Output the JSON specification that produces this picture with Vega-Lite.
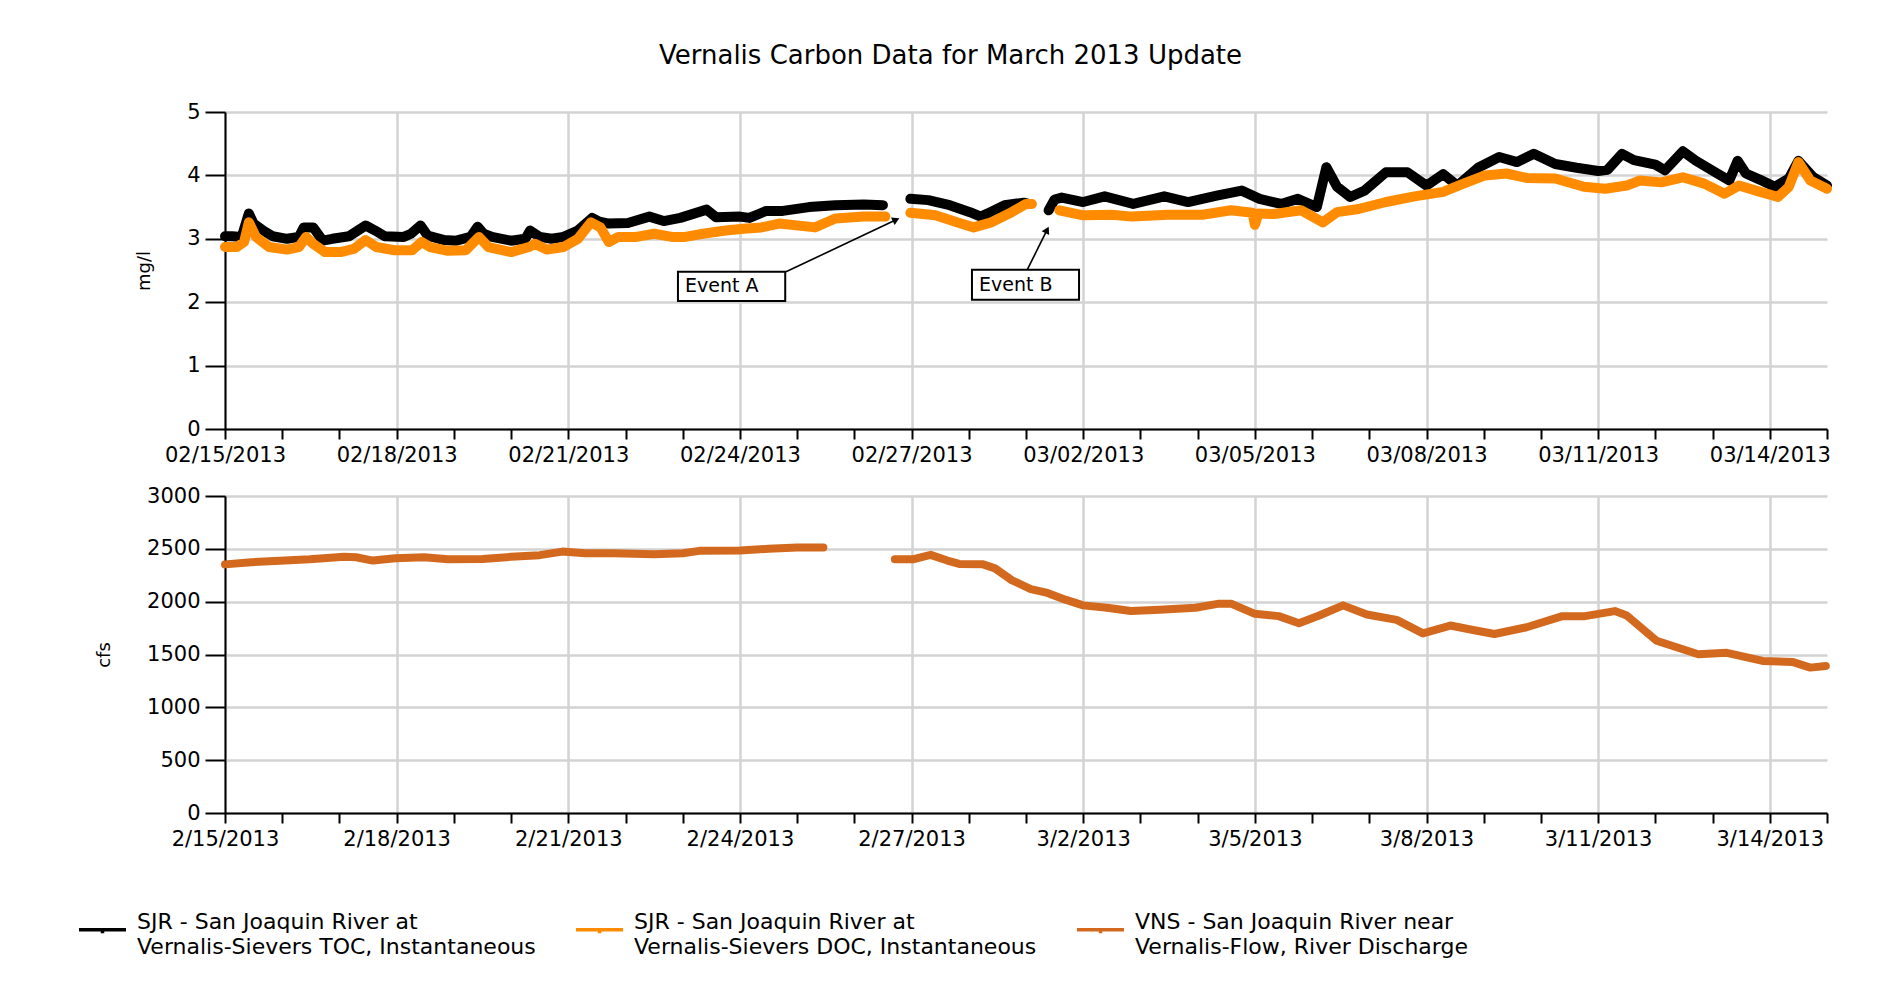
{
  "$schema": "https://vega.github.io/schema/vega-lite/v6.json",
  "padding": {"left": 77, "top": 43, "right": 10, "bottom": 10},
  "background": "white",
  "title": {"text": "Vernalis Carbon Data for March 2013 Update", "font": "DejaVu Sans", "fontSize": 26, "fontWeight": "normal", "color": "black", "anchor": "middle", "frame": "bounds", "offset": 32, "dx": -4},
  "datasets": {
    "toc": [
      {"t":"2013-02-15T00:00","v":3.04,"s":"TOC","g":1},{"t":"2013-02-15T03:00","v":3.04,"s":"TOC","g":1},{"t":"2013-02-15T07:00","v":3.03,"s":"TOC","g":1},{"t":"2013-02-15T10:00","v":3.40,"s":"TOC","g":1},{"t":"2013-02-15T12:00","v":3.24,"s":"TOC","g":1},{"t":"2013-02-15T16:00","v":3.13,"s":"TOC","g":1},{"t":"2013-02-15T20:00","v":3.04,"s":"TOC","g":1},{"t":"2013-02-16T02:00","v":3.00,"s":"TOC","g":1},{"t":"2013-02-16T07:00","v":3.03,"s":"TOC","g":1},{"t":"2013-02-16T09:00","v":3.18,"s":"TOC","g":1},{"t":"2013-02-16T13:00","v":3.18,"s":"TOC","g":1},{"t":"2013-02-16T17:00","v":2.97,"s":"TOC","g":1},{"t":"2013-02-16T21:00","v":3.00,"s":"TOC","g":1},{"t":"2013-02-17T04:00","v":3.04,"s":"TOC","g":1},{"t":"2013-02-17T11:00","v":3.21,"s":"TOC","g":1},{"t":"2013-02-17T15:00","v":3.13,"s":"TOC","g":1},{"t":"2013-02-17T19:00","v":3.04,"s":"TOC","g":1},{"t":"2013-02-18T03:00","v":3.03,"s":"TOC","g":1},{"t":"2013-02-18T06:00","v":3.08,"s":"TOC","g":1},{"t":"2013-02-18T10:00","v":3.21,"s":"TOC","g":1},{"t":"2013-02-18T13:00","v":3.05,"s":"TOC","g":1},{"t":"2013-02-18T20:00","v":2.98,"s":"TOC","g":1},{"t":"2013-02-19T01:00","v":2.97,"s":"TOC","g":1},{"t":"2013-02-19T07:00","v":3.03,"s":"TOC","g":1},{"t":"2013-02-19T10:00","v":3.19,"s":"TOC","g":1},{"t":"2013-02-19T12:30","v":3.08,"s":"TOC","g":1},{"t":"2013-02-19T16:00","v":3.03,"s":"TOC","g":1},{"t":"2013-02-20T00:00","v":2.97,"s":"TOC","g":1},{"t":"2013-02-20T06:00","v":3.00,"s":"TOC","g":1},{"t":"2013-02-20T08:00","v":3.13,"s":"TOC","g":1},{"t":"2013-02-20T12:00","v":3.03,"s":"TOC","g":1},{"t":"2013-02-20T17:00","v":3.00,"s":"TOC","g":1},{"t":"2013-02-20T22:00","v":3.03,"s":"TOC","g":1},{"t":"2013-02-21T04:00","v":3.13,"s":"TOC","g":1},{"t":"2013-02-21T10:00","v":3.33,"s":"TOC","g":1},{"t":"2013-02-21T13:00","v":3.27,"s":"TOC","g":1},{"t":"2013-02-21T17:00","v":3.24,"s":"TOC","g":1},{"t":"2013-02-22T01:00","v":3.25,"s":"TOC","g":1},{"t":"2013-02-22T10:00","v":3.35,"s":"TOC","g":1},{"t":"2013-02-22T16:00","v":3.28,"s":"TOC","g":1},{"t":"2013-02-22T23:00","v":3.33,"s":"TOC","g":1},{"t":"2013-02-23T10:00","v":3.46,"s":"TOC","g":1},{"t":"2013-02-23T14:00","v":3.34,"s":"TOC","g":1},{"t":"2013-02-24T00:00","v":3.35,"s":"TOC","g":1},{"t":"2013-02-24T04:00","v":3.33,"s":"TOC","g":1},{"t":"2013-02-24T11:00","v":3.44,"s":"TOC","g":1},{"t":"2013-02-24T18:00","v":3.44,"s":"TOC","g":1},{"t":"2013-02-25T05:00","v":3.50,"s":"TOC","g":1},{"t":"2013-02-25T16:00","v":3.53,"s":"TOC","g":1},{"t":"2013-02-26T04:00","v":3.54,"s":"TOC","g":1},{"t":"2013-02-26T12:00","v":3.53,"s":"TOC","g":1},
      {"t":"2013-02-26T23:30","v":3.63,"s":"TOC","g":2},{"t":"2013-02-27T07:00","v":3.61,"s":"TOC","g":2},{"t":"2013-02-27T16:00","v":3.53,"s":"TOC","g":2},{"t":"2013-02-28T00:30","v":3.42,"s":"TOC","g":2},{"t":"2013-02-28T05:00","v":3.35,"s":"TOC","g":2},{"t":"2013-02-28T09:00","v":3.42,"s":"TOC","g":2},{"t":"2013-02-28T15:00","v":3.53,"s":"TOC","g":2},{"t":"2013-02-28T23:00","v":3.57,"s":"TOC","g":2},{"t":"2013-03-01T01:00","v":3.55,"s":"TOC","g":2},
      {"t":"2013-03-01T09:30","v":3.45,"s":"TOC","g":3},{"t":"2013-03-01T12:00","v":3.62,"s":"TOC","g":3},{"t":"2013-03-01T15:00","v":3.65,"s":"TOC","g":3},{"t":"2013-03-02T00:00","v":3.58,"s":"TOC","g":3},{"t":"2013-03-02T09:00","v":3.67,"s":"TOC","g":3},{"t":"2013-03-02T21:00","v":3.55,"s":"TOC","g":3},{"t":"2013-03-03T10:00","v":3.67,"s":"TOC","g":3},{"t":"2013-03-03T20:00","v":3.58,"s":"TOC","g":3},{"t":"2013-03-04T08:00","v":3.68,"s":"TOC","g":3},{"t":"2013-03-04T18:30","v":3.76,"s":"TOC","g":3},{"t":"2013-03-05T02:00","v":3.63,"s":"TOC","g":3},{"t":"2013-03-05T11:00","v":3.55,"s":"TOC","g":3},{"t":"2013-03-05T18:00","v":3.63,"s":"TOC","g":3},{"t":"2013-03-06T02:00","v":3.50,"s":"TOC","g":3},{"t":"2013-03-06T06:00","v":4.13,"s":"TOC","g":3},{"t":"2013-03-06T10:30","v":3.82,"s":"TOC","g":3},{"t":"2013-03-06T16:00","v":3.66,"s":"TOC","g":3},{"t":"2013-03-06T22:00","v":3.76,"s":"TOC","g":3},{"t":"2013-03-07T07:00","v":4.05,"s":"TOC","g":3},{"t":"2013-03-07T16:00","v":4.05,"s":"TOC","g":3},{"t":"2013-03-08T00:00","v":3.84,"s":"TOC","g":3},{"t":"2013-03-08T07:00","v":4.02,"s":"TOC","g":3},{"t":"2013-03-08T13:00","v":3.84,"s":"TOC","g":3},{"t":"2013-03-08T22:00","v":4.13,"s":"TOC","g":3},{"t":"2013-03-09T06:30","v":4.29,"s":"TOC","g":3},{"t":"2013-03-09T14:00","v":4.21,"s":"TOC","g":3},{"t":"2013-03-09T21:00","v":4.34,"s":"TOC","g":3},{"t":"2013-03-10T06:00","v":4.18,"s":"TOC","g":3},{"t":"2013-03-10T15:00","v":4.12,"s":"TOC","g":3},{"t":"2013-03-11T00:00","v":4.07,"s":"TOC","g":3},{"t":"2013-03-11T04:00","v":4.09,"s":"TOC","g":3},{"t":"2013-03-11T10:00","v":4.34,"s":"TOC","g":3},{"t":"2013-03-11T15:00","v":4.24,"s":"TOC","g":3},{"t":"2013-03-12T00:00","v":4.17,"s":"TOC","g":3},{"t":"2013-03-12T04:00","v":4.08,"s":"TOC","g":3},{"t":"2013-03-12T11:30","v":4.38,"s":"TOC","g":3},{"t":"2013-03-12T17:00","v":4.23,"s":"TOC","g":3},{"t":"2013-03-13T02:00","v":4.03,"s":"TOC","g":3},{"t":"2013-03-13T07:00","v":3.92,"s":"TOC","g":3},{"t":"2013-03-13T10:30","v":4.23,"s":"TOC","g":3},{"t":"2013-03-13T14:00","v":4.03,"s":"TOC","g":3},{"t":"2013-03-13T20:00","v":3.93,"s":"TOC","g":3},{"t":"2013-03-14T02:00","v":3.82,"s":"TOC","g":3},{"t":"2013-03-14T08:00","v":3.95,"s":"TOC","g":3},{"t":"2013-03-14T12:00","v":4.23,"s":"TOC","g":3},{"t":"2013-03-14T18:00","v":3.98,"s":"TOC","g":3},{"t":"2013-03-15T00:00","v":3.84,"s":"TOC","g":3}
    ],
    "doc": [
      {"t":"2013-02-15T00:00","v":2.87,"s":"DOC","g":1},{"t":"2013-02-15T05:00","v":2.87,"s":"DOC","g":1},{"t":"2013-02-15T08:00","v":2.95,"s":"DOC","g":1},{"t":"2013-02-15T10:00","v":3.26,"s":"DOC","g":1},{"t":"2013-02-15T13:00","v":3.03,"s":"DOC","g":1},{"t":"2013-02-15T18:30","v":2.87,"s":"DOC","g":1},{"t":"2013-02-16T02:00","v":2.83,"s":"DOC","g":1},{"t":"2013-02-16T07:00","v":2.87,"s":"DOC","g":1},{"t":"2013-02-16T10:00","v":3.03,"s":"DOC","g":1},{"t":"2013-02-16T13:00","v":2.92,"s":"DOC","g":1},{"t":"2013-02-16T18:00","v":2.79,"s":"DOC","g":1},{"t":"2013-02-17T00:30","v":2.79,"s":"DOC","g":1},{"t":"2013-02-17T06:00","v":2.84,"s":"DOC","g":1},{"t":"2013-02-17T11:00","v":2.98,"s":"DOC","g":1},{"t":"2013-02-17T15:30","v":2.87,"s":"DOC","g":1},{"t":"2013-02-17T23:00","v":2.82,"s":"DOC","g":1},{"t":"2013-02-18T06:30","v":2.82,"s":"DOC","g":1},{"t":"2013-02-18T10:30","v":2.95,"s":"DOC","g":1},{"t":"2013-02-18T14:00","v":2.87,"s":"DOC","g":1},{"t":"2013-02-18T21:30","v":2.81,"s":"DOC","g":1},{"t":"2013-02-19T05:00","v":2.82,"s":"DOC","g":1},{"t":"2013-02-19T10:30","v":3.03,"s":"DOC","g":1},{"t":"2013-02-19T14:30","v":2.87,"s":"DOC","g":1},{"t":"2013-02-20T00:00","v":2.79,"s":"DOC","g":1},{"t":"2013-02-20T07:30","v":2.87,"s":"DOC","g":1},{"t":"2013-02-20T10:00","v":2.92,"s":"DOC","g":1},{"t":"2013-02-20T15:00","v":2.83,"s":"DOC","g":1},{"t":"2013-02-20T22:00","v":2.87,"s":"DOC","g":1},{"t":"2013-02-21T04:00","v":3.00,"s":"DOC","g":1},{"t":"2013-02-21T09:30","v":3.26,"s":"DOC","g":1},{"t":"2013-02-21T13:30","v":3.18,"s":"DOC","g":1},{"t":"2013-02-21T17:00","v":2.95,"s":"DOC","g":1},{"t":"2013-02-21T21:00","v":3.03,"s":"DOC","g":1},{"t":"2013-02-22T04:30","v":3.03,"s":"DOC","g":1},{"t":"2013-02-22T12:00","v":3.08,"s":"DOC","g":1},{"t":"2013-02-22T19:30","v":3.03,"s":"DOC","g":1},{"t":"2013-02-23T01:00","v":3.03,"s":"DOC","g":1},{"t":"2013-02-23T08:30","v":3.08,"s":"DOC","g":1},{"t":"2013-02-23T18:00","v":3.13,"s":"DOC","g":1},{"t":"2013-02-24T01:30","v":3.16,"s":"DOC","g":1},{"t":"2013-02-24T09:00","v":3.18,"s":"DOC","g":1},{"t":"2013-02-24T16:30","v":3.24,"s":"DOC","g":1},{"t":"2013-02-25T07:30","v":3.18,"s":"DOC","g":1},{"t":"2013-02-25T16:00","v":3.32,"s":"DOC","g":1},{"t":"2013-02-26T04:00","v":3.35,"s":"DOC","g":1},{"t":"2013-02-26T13:00","v":3.35,"s":"DOC","g":1},
      {"t":"2013-02-26T23:30","v":3.41,"s":"DOC","g":2},{"t":"2013-02-27T10:00","v":3.37,"s":"DOC","g":2},{"t":"2013-02-27T19:00","v":3.26,"s":"DOC","g":2},{"t":"2013-02-28T02:00","v":3.18,"s":"DOC","g":2},{"t":"2013-02-28T09:30","v":3.26,"s":"DOC","g":2},{"t":"2013-02-28T18:00","v":3.42,"s":"DOC","g":2},{"t":"2013-03-01T00:00","v":3.55,"s":"DOC","g":2},{"t":"2013-03-01T02:30","v":3.55,"s":"DOC","g":2},
      {"t":"2013-03-01T14:00","v":3.45,"s":"DOC","g":3},{"t":"2013-03-02T00:00","v":3.37,"s":"DOC","g":3},{"t":"2013-03-02T12:00","v":3.38,"s":"DOC","g":3},{"t":"2013-03-02T20:30","v":3.35,"s":"DOC","g":3},{"t":"2013-03-03T11:30","v":3.38,"s":"DOC","g":3},{"t":"2013-03-04T02:00","v":3.38,"s":"DOC","g":3},{"t":"2013-03-04T14:00","v":3.45,"s":"DOC","g":3},{"t":"2013-03-04T23:00","v":3.41,"s":"DOC","g":3},{"t":"2013-03-05T00:00","v":3.22,"s":"DOC","g":3},{"t":"2013-03-05T01:30","v":3.40,"s":"DOC","g":3},{"t":"2013-03-05T08:00","v":3.39,"s":"DOC","g":3},{"t":"2013-03-05T19:30","v":3.45,"s":"DOC","g":3},{"t":"2013-03-06T04:30","v":3.26,"s":"DOC","g":3},{"t":"2013-03-06T10:30","v":3.42,"s":"DOC","g":3},{"t":"2013-03-06T19:30","v":3.47,"s":"DOC","g":3},{"t":"2013-03-07T07:00","v":3.58,"s":"DOC","g":3},{"t":"2013-03-07T19:00","v":3.67,"s":"DOC","g":3},{"t":"2013-03-08T07:00","v":3.74,"s":"DOC","g":3},{"t":"2013-03-08T15:30","v":3.87,"s":"DOC","g":3},{"t":"2013-03-09T00:30","v":4.00,"s":"DOC","g":3},{"t":"2013-03-09T09:30","v":4.03,"s":"DOC","g":3},{"t":"2013-03-09T18:00","v":3.96,"s":"DOC","g":3},{"t":"2013-03-10T06:00","v":3.95,"s":"DOC","g":3},{"t":"2013-03-10T18:00","v":3.82,"s":"DOC","g":3},{"t":"2013-03-11T03:00","v":3.79,"s":"DOC","g":3},{"t":"2013-03-11T12:00","v":3.84,"s":"DOC","g":3},{"t":"2013-03-11T17:30","v":3.92,"s":"DOC","g":3},{"t":"2013-03-12T02:30","v":3.89,"s":"DOC","g":3},{"t":"2013-03-12T11:30","v":3.97,"s":"DOC","g":3},{"t":"2013-03-12T20:30","v":3.87,"s":"DOC","g":3},{"t":"2013-03-13T05:00","v":3.71,"s":"DOC","g":3},{"t":"2013-03-13T11:00","v":3.84,"s":"DOC","g":3},{"t":"2013-03-13T20:00","v":3.74,"s":"DOC","g":3},{"t":"2013-03-14T03:30","v":3.66,"s":"DOC","g":3},{"t":"2013-03-14T08:00","v":3.82,"s":"DOC","g":3},{"t":"2013-03-14T12:00","v":4.21,"s":"DOC","g":3},{"t":"2013-03-14T17:00","v":3.92,"s":"DOC","g":3},{"t":"2013-03-15T00:00","v":3.79,"s":"DOC","g":3}
    ],
    "flow": [
      {"t":"2013-02-15T00:00","v":2353,"s":"Flow","g":1},{"t":"2013-02-15T11:00","v":2373,"s":"Flow","g":1},{"t":"2013-02-15T23:00","v":2388,"s":"Flow","g":1},{"t":"2013-02-16T11:30","v":2401,"s":"Flow","g":1},{"t":"2013-02-17T02:00","v":2425,"s":"Flow","g":1},{"t":"2013-02-17T07:00","v":2420,"s":"Flow","g":1},{"t":"2013-02-17T14:00","v":2389,"s":"Flow","g":1},{"t":"2013-02-17T23:30","v":2411,"s":"Flow","g":1},{"t":"2013-02-18T11:30","v":2420,"s":"Flow","g":1},{"t":"2013-02-18T21:30","v":2401,"s":"Flow","g":1},{"t":"2013-02-19T12:00","v":2404,"s":"Flow","g":1},{"t":"2013-02-20T00:00","v":2424,"s":"Flow","g":1},{"t":"2013-02-20T12:00","v":2440,"s":"Flow","g":1},{"t":"2013-02-20T21:30","v":2474,"s":"Flow","g":1},{"t":"2013-02-21T07:00","v":2459,"s":"Flow","g":1},{"t":"2013-02-21T19:00","v":2459,"s":"Flow","g":1},{"t":"2013-02-22T12:00","v":2449,"s":"Flow","g":1},{"t":"2013-02-23T00:00","v":2459,"s":"Flow","g":1},{"t":"2013-02-23T07:00","v":2481,"s":"Flow","g":1},{"t":"2013-02-24T00:00","v":2484,"s":"Flow","g":1},{"t":"2013-02-24T12:00","v":2500,"s":"Flow","g":1},{"t":"2013-02-25T00:00","v":2513,"s":"Flow","g":1},{"t":"2013-02-25T11:00","v":2513,"s":"Flow","g":1},
      {"t":"2013-02-26T17:00","v":2401,"s":"Flow","g":2},{"t":"2013-02-27T00:30","v":2401,"s":"Flow","g":2},{"t":"2013-02-27T08:00","v":2443,"s":"Flow","g":2},{"t":"2013-02-27T15:00","v":2389,"s":"Flow","g":2},{"t":"2013-02-27T20:00","v":2357,"s":"Flow","g":2},{"t":"2013-02-28T06:00","v":2353,"s":"Flow","g":2},{"t":"2013-02-28T11:00","v":2315,"s":"Flow","g":2},{"t":"2013-02-28T18:00","v":2204,"s":"Flow","g":2},{"t":"2013-03-01T02:00","v":2118,"s":"Flow","g":2},{"t":"2013-03-01T09:00","v":2083,"s":"Flow","g":2},{"t":"2013-03-01T16:30","v":2019,"s":"Flow","g":2},{"t":"2013-03-02T00:00","v":1965,"s":"Flow","g":2},{"t":"2013-03-02T10:00","v":1943,"s":"Flow","g":2},{"t":"2013-03-02T20:00","v":1911,"s":"Flow","g":2},{"t":"2013-03-03T08:00","v":1924,"s":"Flow","g":2},{"t":"2013-03-03T23:00","v":1943,"s":"Flow","g":2},{"t":"2013-03-04T09:00","v":1981,"s":"Flow","g":2},{"t":"2013-03-04T14:00","v":1981,"s":"Flow","g":2},{"t":"2013-03-05T00:00","v":1885,"s":"Flow","g":2},{"t":"2013-03-05T10:00","v":1863,"s":"Flow","g":2},{"t":"2013-03-05T18:30","v":1796,"s":"Flow","g":2},{"t":"2013-03-06T03:00","v":1869,"s":"Flow","g":2},{"t":"2013-03-06T13:00","v":1965,"s":"Flow","g":2},{"t":"2013-03-06T23:00","v":1879,"s":"Flow","g":2},{"t":"2013-03-07T11:30","v":1828,"s":"Flow","g":2},{"t":"2013-03-07T22:30","v":1700,"s":"Flow","g":2},{"t":"2013-03-08T10:00","v":1774,"s":"Flow","g":2},{"t":"2013-03-08T19:30","v":1732,"s":"Flow","g":2},{"t":"2013-03-09T04:30","v":1694,"s":"Flow","g":2},{"t":"2013-03-09T18:00","v":1758,"s":"Flow","g":2},{"t":"2013-03-10T09:00","v":1863,"s":"Flow","g":2},{"t":"2013-03-10T18:30","v":1863,"s":"Flow","g":2},{"t":"2013-03-11T07:00","v":1911,"s":"Flow","g":2},{"t":"2013-03-11T12:00","v":1869,"s":"Flow","g":2},{"t":"2013-03-12T00:30","v":1630,"s":"Flow","g":2},{"t":"2013-03-12T18:00","v":1503,"s":"Flow","g":2},{"t":"2013-03-13T06:00","v":1516,"s":"Flow","g":2},{"t":"2013-03-13T21:00","v":1439,"s":"Flow","g":2},{"t":"2013-03-14T09:30","v":1430,"s":"Flow","g":2},{"t":"2013-03-14T17:00","v":1376,"s":"Flow","g":2},{"t":"2013-03-14T23:30","v":1392,"s":"Flow","g":2}
    ],
    "boxes": [
      {"x1":"2013-02-22T22:00","x2":"2013-02-24T19:00","y1":2.02,"y2":2.48,"ty":2.25,"label":"Event A"},
      {"x1":"2013-02-28T01:20","x2":"2013-03-01T22:15","y1":2.04,"y2":2.51,"ty":2.27,"label":"Event B"}
    ],
    "arrows": [
      {"x1":"2013-02-24T19:20","y1":2.48,"x2":"2013-02-26T17:30","y2":3.30,"label":"Event A"},
      {"x1":"2013-03-01T00:30","y1":2.51,"x2":"2013-03-01T08:50","y2":3.14,"label":"Event B"}
    ]
  },
  "vconcat": [
    {
      "width": 1602,
      "height": 317,
      "layer": [
        {
          "data": {"name": "toc"},
          "mark": {"type": "line", "strokeWidth": 10, "strokeJoin": "round", "strokeCap": "round"},
          "encoding": {
            "x": {"field": "t", "type": "temporal", "title": null, "scale": {"domain": [{"year": 2013, "month": "feb", "date": 15}, {"year": 2013, "month": "mar", "date": 15}], "nice": false},
              "axis": {"title": null, "format": "%m/%d/%Y", "tickCount": {"interval": "day", "step": 1}, "labelExpr": "round((datum.value - datetime(2013,1,15)) / 864e5) % 3 == 0 ? datum.label : ''", "gridOpacity": {"condition": {"test": "round((datum.value - datetime(2013,1,15)) / 864e5) % 3 == 0", "value": 1}, "value": 0}, "tickSize": 10, "labelPadding": 5}},
            "y": {"field": "v", "type": "quantitative", "title": "mg/l", "scale": {"domain": [0, 5], "nice": false},
              "axis": {"title": "mg/l", "format": "d", "values": [0, 1, 2, 3, 4, 5], "tickSize": 20, "labelPadding": 5, "titlePadding": 33}},
            "color": {"field": "s", "type": "nominal", "scale": {"domain": ["TOC", "DOC", "Flow"], "range": ["#000000", "#FF8C00", "#D2691E"]},
              "legend": {"orient": "none", "legendX": -148, "legendY": 792, "direction": "horizontal", "columns": 3, "title": null, "symbolType": "M-1,0H1M0,0V0.15", "symbolSize": 2209, "symbolStrokeWidth": 3.5, "labelFont": "DejaVu Sans", "labelFontSize": 22, "labelColor": "black", "labelLimit": 1000, "labelOffset": 9, "columnPadding": 33, "padding": 0,
                "labelExpr": "datum.label == 'TOC' ? ['SJR - San Joaquin River at', 'Vernalis-Sievers TOC, Instantaneous'] : datum.label == 'DOC' ? ['SJR - San Joaquin River at', 'Vernalis-Sievers DOC, Instantaneous'] : ['VNS - San Joaquin River near', 'Vernalis-Flow, River Discharge']",
                "encode": {"labels": {"update": {"lineHeight": {"value": 25}, "dy": {"value": -8}}}}}},
            "detail": {"field": "g", "type": "nominal"}
          }
        },
        {
          "data": {"name": "doc"},
          "mark": {"type": "line", "strokeWidth": 10, "strokeJoin": "round", "strokeCap": "round"},
          "encoding": {
            "x": {"field": "t", "type": "temporal", "title": null, "scale": {"domain": [{"year": 2013, "month": "feb", "date": 15}, {"year": 2013, "month": "mar", "date": 15}], "nice": false}},
            "y": {"field": "v", "type": "quantitative", "title": "mg/l", "scale": {"domain": [0, 5], "nice": false}},
            "color": {"field": "s", "type": "nominal", "scale": {"domain": ["TOC", "DOC", "Flow"], "range": ["#000000", "#FF8C00", "#D2691E"]}},
            "detail": {"field": "g", "type": "nominal"}
          }
        },
        {
          "data": {"name": "arrows"},
          "mark": {"type": "rule", "color": "black", "strokeWidth": 1.6},
          "encoding": {
            "x": {"field": "x1", "type": "temporal", "title": null, "scale": {"domain": [{"year": 2013, "month": "feb", "date": 15}, {"year": 2013, "month": "mar", "date": 15}], "nice": false}},
            "x2": {"field": "x2"},
            "y": {"field": "y1", "type": "quantitative", "title": "mg/l", "scale": {"domain": [0, 5], "nice": false}},
            "y2": {"field": "y2"}
          }
        },
        {
          "data": {"name": "arrows"},
          "transform": [{"filter": "datum.label == 'Event A'"}],
          "mark": {"type": "point", "shape": "triangle-up", "filled": true, "color": "black", "opacity": 1, "size": 70, "angle": 64.7},
          "encoding": {
            "x": {"field": "x2", "type": "temporal", "title": null, "scale": {"domain": [{"year": 2013, "month": "feb", "date": 15}, {"year": 2013, "month": "mar", "date": 15}], "nice": false}},
            "y": {"field": "y2", "type": "quantitative", "title": "mg/l", "scale": {"domain": [0, 5], "nice": false}}
          }
        },
        {
          "data": {"name": "arrows"},
          "transform": [{"filter": "datum.label == 'Event B'"}],
          "mark": {"type": "point", "shape": "triangle-up", "filled": true, "color": "black", "opacity": 1, "size": 70, "angle": 26.6},
          "encoding": {
            "x": {"field": "x2", "type": "temporal", "title": null, "scale": {"domain": [{"year": 2013, "month": "feb", "date": 15}, {"year": 2013, "month": "mar", "date": 15}], "nice": false}},
            "y": {"field": "y2", "type": "quantitative", "title": "mg/l", "scale": {"domain": [0, 5], "nice": false}}
          }
        },
        {
          "data": {"name": "boxes"},
          "mark": {"type": "rect", "fill": "white", "stroke": "black", "strokeWidth": 2},
          "encoding": {
            "x": {"field": "x1", "type": "temporal", "title": null, "scale": {"domain": [{"year": 2013, "month": "feb", "date": 15}, {"year": 2013, "month": "mar", "date": 15}], "nice": false}},
            "x2": {"field": "x2"},
            "y": {"field": "y1", "type": "quantitative", "title": "mg/l", "scale": {"domain": [0, 5], "nice": false}},
            "y2": {"field": "y2"}
          }
        },
        {
          "data": {"name": "boxes"},
          "mark": {"type": "text", "align": "left", "baseline": "middle", "dx": 7, "font": "DejaVu Sans", "fontSize": 19, "color": "black"},
          "encoding": {
            "x": {"field": "x1", "type": "temporal", "title": null, "scale": {"domain": [{"year": 2013, "month": "feb", "date": 15}, {"year": 2013, "month": "mar", "date": 15}], "nice": false}},
            "y": {"field": "ty", "type": "quantitative", "title": "mg/l", "scale": {"domain": [0, 5], "nice": false}},
            "text": {"field": "label"}
          }
        }
      ]
    },
    {
      "width": 1602,
      "height": 317,
      "data": {"name": "flow"},
      "mark": {"type": "line", "strokeWidth": 8, "strokeJoin": "round", "strokeCap": "round"},
      "encoding": {
        "x": {"field": "t", "type": "temporal", "scale": {"domain": [{"year": 2013, "month": "feb", "date": 15}, {"year": 2013, "month": "mar", "date": 15}], "nice": false},
          "axis": {"title": null, "format": "%-m/%-d/%Y", "tickCount": {"interval": "day", "step": 1}, "labelExpr": "round((datum.value - datetime(2013,1,15)) / 864e5) % 3 == 0 ? datum.label : ''", "gridOpacity": {"condition": {"test": "round((datum.value - datetime(2013,1,15)) / 864e5) % 3 == 0", "value": 1}, "value": 0}, "tickSize": 10, "labelPadding": 5}},
        "y": {"field": "v", "type": "quantitative", "scale": {"domain": [0, 3000], "nice": false},
          "axis": {"title": "cfs", "format": "d", "values": [0, 500, 1000, 1500, 2000, 2500, 3000], "tickSize": 20, "labelPadding": 5, "titlePadding": 33}},
        "color": {"field": "s", "type": "nominal", "scale": {"domain": ["TOC", "DOC", "Flow"], "range": ["#000000", "#FF8C00", "#D2691E"]}},
        "detail": {"field": "g", "type": "nominal"}
      }
    }
  ],
  "spacing": 67,
  "bounds": "flush",
  "resolve": {"scale": {"color": "shared"}},
  "config": {
    "view": {"stroke": null},
    "axis": {"domainColor": "black", "domainWidth": 2, "tickColor": "black", "tickWidth": 2, "gridColor": "#d3d3d3", "gridWidth": 2.5, "labelFont": "DejaVu Sans", "labelFontSize": 21, "labelColor": "black", "titleFont": "DejaVu Sans", "titleFontSize": 18, "titleFontWeight": "normal", "titleColor": "black", "labelOverlap": false, "labelFlush": false, "labelBound": false}
  }
}
